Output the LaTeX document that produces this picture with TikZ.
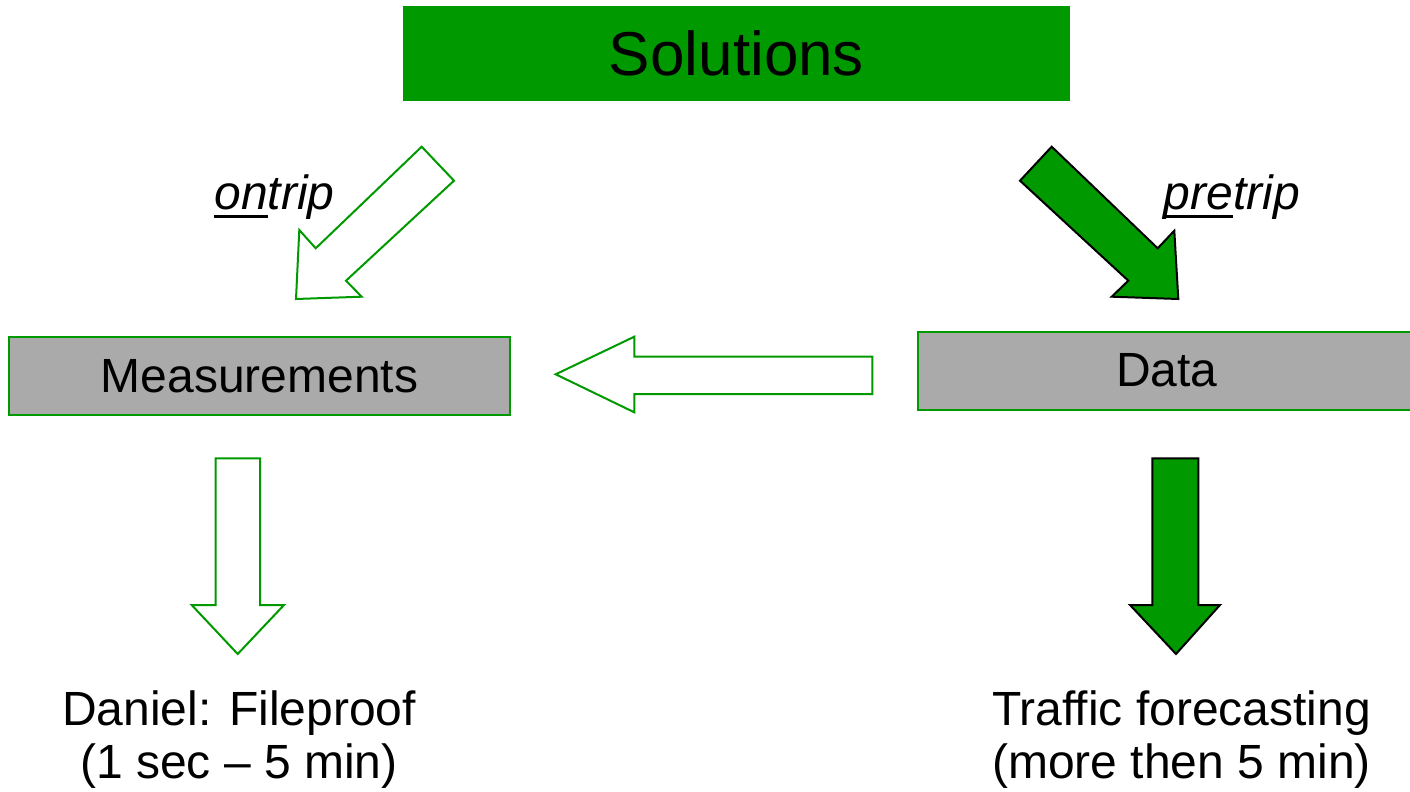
\documentclass[tikz,border=0pt]{standalone}
\usepackage{fontspec}
\setmainfont{Liberation Sans}
\usetikzlibrary{positioning}
\definecolor{solgreen}{RGB}{0,153,0}
\definecolor{boxgray}{RGB}{170,170,170}
\newcommand{\tripmark}[1]{\setbox0\hbox{#1}\rlap{\rule[-4pt]{\wd0}{1.5pt}}\box0}
\tikzstyle{every node}+=[inner sep=0pt]
\tikzstyle{graybox}=[draw=solgreen, line width=1pt, fill=boxgray, minimum height=39pt, font=\fontsize{24}{26.5}\selectfont]
\tikzstyle{tripnote}=[font=\fontsize{24}{26.5}\selectfont\itshape, anchor=base]
\tikzstyle{outcome}=[align=center, font=\fontsize{24}{26.5}\selectfont]
\tikzstyle{hollowarrow}=[draw=solgreen, line width=1pt, fill=white]
\tikzstyle{fullarrow}=[draw=black, line width=1pt, fill=solgreen]

\begin{document}
\begin{tikzpicture}[x=0.5pt,y=-0.5pt]
    \useasboundingbox (0,0) rectangle (1410,792);
    % boxes
    \node [fill=solgreen, minimum width=333.5pt, minimum height=47.5pt, font=\fontsize{31}{36}\selectfont] (solutions) at (736.5,53.5) {Solutions};
    \node [graybox, minimum width=250.5pt] (measurements) at (259.5,376) {Measurements};
    \node [graybox, minimum width=249pt] (data) at (1167,370.5) {Data};
    % trip labels
    \node [tripnote] (ontrip) at (274.5,210) {\tripmark{on}trip};
    \node [tripnote] (pretrip) at (1232,210) {\tripmark{pre}trip};
    % results
    \node [outcome] (fileproof) at (239,740) {Daniel: Fileproof\\(1 sec -- 5 min)};
    \node [outcome] (forecast) at (1181.5,740) {Traffic forecasting\\(more then 5 min)};
    % block arrows
    \draw [hollowarrow] (421.7,146.7) -- (454,180.7) -- (346,280.7) -- (361.7,296.7) -- (296,299) -- (299.3,230) -- (315.7,248.3) -- cycle;
    \draw [fullarrow] (1051.7,146.7) -- (1020,180.7) -- (1128.3,280.7) -- (1111.7,296.7) -- (1178.3,299) -- (1174.3,230.7) -- (1157.7,248.3) -- cycle;
    \draw [hollowarrow] (872.3,356.7) -- (634.3,356.7) -- (634.3,336.7) -- (555.7,374.3) -- (634.3,412.3) -- (634.3,394) -- (872.3,394) -- cycle;
    \draw [hollowarrow] (215.7,458.3) -- (260,458.3) -- (260,605) -- (284,605) -- (237.7,654) -- (191.7,605) -- (215.7,605) -- cycle;
    \draw [fullarrow] (1152.3,458.3) -- (1198.3,458.3) -- (1198.3,605) -- (1220,605) -- (1176,654) -- (1130,605) -- (1152.3,605) -- cycle;
\end{tikzpicture}
\end{document}
